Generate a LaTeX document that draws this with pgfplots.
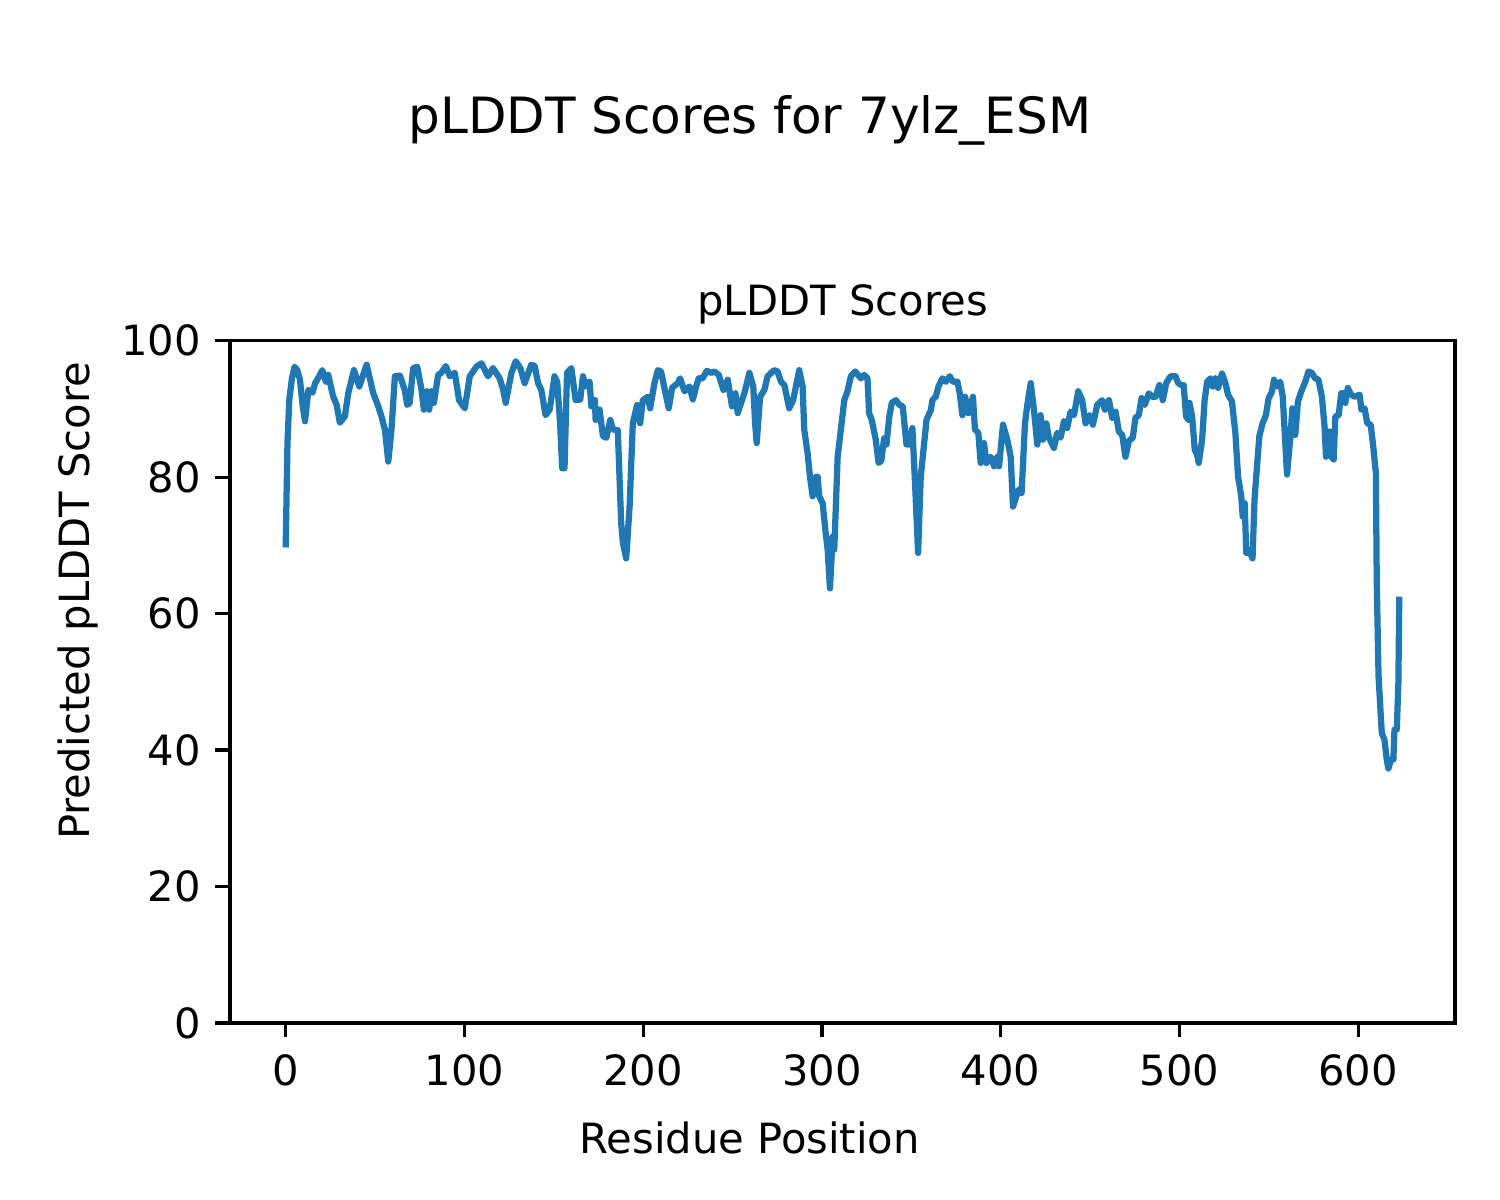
\documentclass[border=0pt]{standalone}
\usepackage{pgfplots}
\pgfplotsset{compat=1.18}
\usepackage{fontspec}
\setmainfont{DejaVu Sans}
\definecolor{mplblue}{HTML}{1F77B4}
\begin{document}
\begin{tikzpicture}
\useasboundingbox (-55.2pt,-42.5pt) rectangle (304.8pt,245.5pt);
\begin{axis}[
  name=ax, at={(0,0)}, anchor=south west,
  scale only axis, width=294pt, height=163.7pt,
  xmin=-31.15, xmax=654.15, ymin=0, ymax=100,
  xtick={0,100,200,300,400,500,600},
  ytick={0,20,40,60,80,100},
  xtick pos=bottom, ytick pos=left,
  tick align=outside, major tick length=3.5pt,
  every tick/.style={black, line width=0.8pt},
  axis line style={line width=0.8pt},
  /pgf/number format/assume math mode=true,
  ticklabel style={font=\fontsize{10}{12}\selectfont},
  xticklabel style={yshift=-0.5pt},
  yticklabel style={xshift=0pt},
  title={pLDDT Scores},
  title style={font=\fontsize{10}{12}\selectfont, at={(0.5,1)}, anchor=south, yshift=-5.6pt},
  clip=false,
]
\addplot[mplblue, line width=1.5pt, line join=round] coordinates {
(0,69.7) (1,85) (2,91.3) (3.5,94.5) (5,96.2) (6.5,95.7) (8,94.3) (9.5,90.5) (10.8,88.2) (12.7,92.8)
(15,92.4) (16.5,93.8) (18.3,94.6) (20.5,95.7) (22.5,94) (23.8,95) (26.6,91.8) (28.5,90.6) (30.3,88) (33.1,88.9)
(35,92.3) (38.2,95.7) (41.2,93.3) (45.3,96.5) (49,92.3) (51.8,90.4) (53.6,88.9) (55.5,87) (57.4,82.3) (59.2,87)
(61.1,94.8) (63.9,94.9) (66.6,92.8) (68,90.6) (69.4,90.9) (71.3,96) (73.6,96.2) (76,92.8) (77.3,89.9) (79.1,92.6)
(80.3,89.9) (81.5,92.6) (82.9,90.9) (85.3,95) (87,95.3) (89.6,96.3) (91.8,94.8) (94.6,95.3) (95.5,93.8) (97,91.3)
(100.2,90.1) (103,94.8) (106.7,96.2) (109.5,96.7) (113.2,94.8) (116,96) (119.7,94.5) (121.5,93) (123.1,90.9) (126.3,95.3)
(128.7,97) (131.3,96) (133.7,93.8) (137.4,96.5) (139.3,96.3) (141.2,93.8) (143,92.8) (145.4,89.1) (147.7,89.9) (150.4,94.8)
(151.9,94) (153.5,88) (154.7,81.3) (156,81.3) (157.4,95.3) (159.8,96) (162.2,91.3) (164.8,91.4) (166.3,94.8) (168.2,93.3)
(170,94) (171,90.4) (173,91.3) (173.4,88.4) (175.6,89.9) (177.5,86) (179.4,85.8) (181.6,88.4) (183.1,87) (185.8,86.9)
(187.7,73.3) (188.7,70.3) (190.5,68.1) (192.4,75.7) (194.2,87.9) (196.6,90.6) (198.3,87.9) (199.8,91.3) (202.6,91.8) (203.9,90.1)
(206.3,93.8) (208.2,95.7) (210,95.5) (212.5,92.3) (214.3,90.1) (216.2,93.1) (219.4,93.8) (220.7,94.5) (223.1,92.6) (225.9,93.3)
(227.8,91.4) (229.6,93.3) (231.1,94.5) (233.3,94.5) (235.6,95.6) (238,95.3) (239.9,95.5) (242.3,95) (244.9,92.8) (247.3,94.3)
(249.7,90.4) (251.6,92.3) (252.9,89.4) (255.3,91.3) (256.6,92.3) (259.4,95.3) (261.6,93.3) (262.6,88) (263.5,85) (265.4,91.8)
(267.8,92.8) (269.6,94.8) (273.3,95.7) (275.2,95.5) (277.1,94) (279,93.5) (281.7,90.1) (283.9,91.3) (287.3,95.7) (289.2,93.3)
(290.1,87) (292,83.5) (293.3,80.1) (294.8,77.2) (296.2,80) (297.6,80.1) (298.5,77.2) (300.4,76.2) (301.9,72.3) (303.2,69.4)
(304.5,63.7) (306,71.3) (306.9,69.4) (308.8,83) (310.6,87) (312.5,91.3) (314.3,92.6) (316.2,94.8) (318.6,95.5) (321.8,94.5)
(323.6,95) (325.5,94.5) (326.4,89.4) (327.9,88.4) (330.1,85.5) (331.7,82.1) (333.2,82.4) (334.8,85.7) (336.1,84.8) (337.7,88.9)
(339.1,90.9) (341.4,91.3) (343.3,90.6) (345.2,90.4) (347.3,84.8) (348.8,84.8) (350.6,87.2) (352.1,79.1) (353.8,68.9) (355.3,80.1)
(357.2,85) (358.5,88.4) (361,89.9) (361.8,91.3) (363.7,91.8) (365.2,93.3) (367.4,94.5) (369.3,94) (371.5,94.8) (373.3,94)
(375.8,94) (377.1,92.3) (378.6,89.1) (380.1,91.8) (381.9,89.4) (384.5,91.8) (385.6,87) (387.5,86.5) (388.8,82.1) (390.7,85)
(392,82.1) (394.4,83) (396.3,81.6) (398.2,83) (399.1,81.6) (401.3,87.7) (403.7,85.5) (405.6,83) (406.9,75.7) (408.8,77.2)
(410.2,78.2) (411.7,77.7) (413.6,87.9) (414.9,90.6) (416.8,93.8) (418.6,89.9) (420.5,84.8) (422.3,89.1) (423.6,85.5) (425.5,87.9)
(427,85.8) (429.8,84.3) (431.6,86.5) (433.5,85.8) (435.4,88.2) (437.2,87.2) (439.1,89.6) (441,89.1) (443.4,92.6) (445.6,91.3)
(447.5,87.9) (449.7,89.1) (451.6,87.7) (454,90.6) (456.8,91.3) (458.3,89.9) (460.6,91.3) (462.4,88.7) (464.3,89.6) (466.1,86.7)
(468,86.2) (469.8,83) (471.7,85.3) (473.9,85.8) (475.4,88.7) (477.3,89.1) (478.8,91.6) (480.6,90.6) (482.9,92.3) (484.7,91.8)
(486.6,91.8) (488.8,93.5) (490.7,91.3) (492.6,93.8) (495,94.8) (497.8,94.8) (499.3,93.8) (501.2,93.5) (502.4,93.5) (503.7,88.9)
(505.2,88.4) (505.6,90.9) (507.1,88.9) (508.6,84) (509.9,83.3) (510.8,82.1) (512.7,85.5) (514.1,91.3) (515.5,94) (517.3,94.5)
(518.6,93.3) (520.1,94.5) (521.6,93.1) (523.8,95.2) (525.7,93.8) (527.2,92.1) (529.4,91.1) (531.3,86.5) (532.8,80.1) (534.6,77.2)
(535.4,74.2) (536.5,76.2) (537.4,68.9) (538.7,69.4) (540.9,68.1) (542,76.7) (543.4,81.6) (544.7,86) (546.5,87.9) (548.4,89.1)
(549.9,91.6) (551.8,92.6) (552.9,94.3) (554.6,93.3) (556.4,94) (557.8,91.8) (560.2,80.4) (562.1,86) (563.2,90.1) (564.8,86.2)
(566.3,91.1) (568.2,92.6) (570.4,94) (572.2,95.5) (574.1,95.3) (575.9,94.5) (577.8,94.3) (579.7,91.8) (581.2,87.4) (582,83)
(583.8,86.7) (585,83) (586.3,82.6) (587.2,88.9) (589.1,89.1) (590.5,92.3) (591.8,92.3) (592.8,90.9) (594.2,93.1) (596.1,92.1)
(598,91.8) (600.8,92.1) (601.8,89.9) (603.6,90.1) (605.1,87.9) (607,87.7) (608.3,84.8) (609.9,80.6) (610.4,64.5) (611.4,50.8)
(613.2,42.5) (614.7,41.5) (616,38.6) (616.9,37.3) (618.4,38.6) (619.7,38.6) (620.3,43) (621.6,43) (622.5,49.9) (623,62.5)
};
\end{axis}
\node[font=\fontsize{12}{14}\selectfont] at (124.8pt,216.7pt) {pLDDT Scores for 7ylz\_ESM};
\node[font=\fontsize{10}{12}\selectfont] at (124.7pt,-27.6pt) {Residue Position};
\node[font=\fontsize{10}{12}\selectfont, rotate=90] at (-36.5pt,101.3pt) {Predicted pLDDT Score};
\end{tikzpicture}
\end{document}
